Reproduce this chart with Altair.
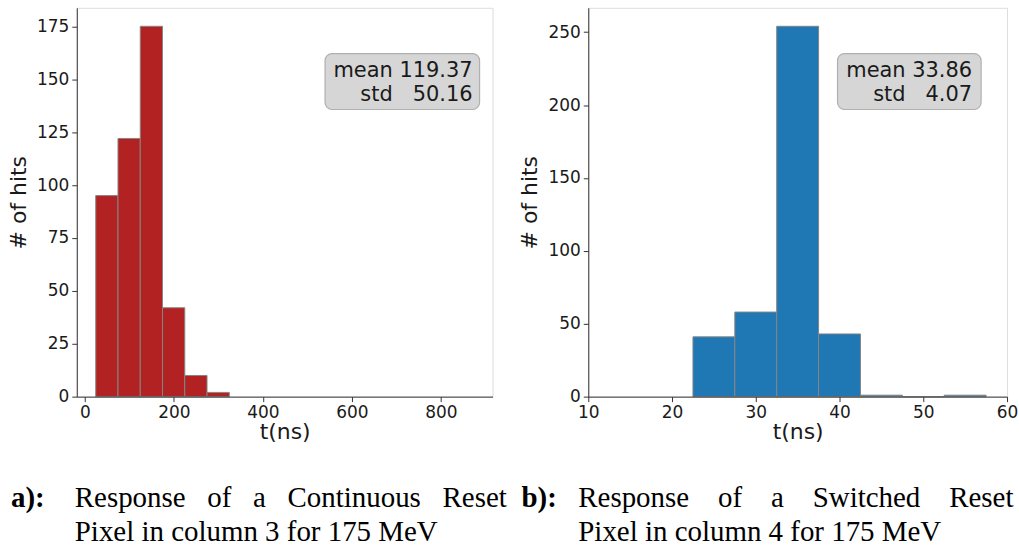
import altair as alt
import pandas as pd

# Panel a: continuous reset pixel, column 3
left_edges = [24.6, 74.6, 124.6, 174.6, 224.6, 274.6, 324.6]
left_counts = [95, 122, 175, 42, 10, 2]
left_stats = {"mean": 119.37, "std": 50.16}

# Panel b: switched reset pixel, column 4
right_edges = [22.5, 27.5, 32.5, 37.5, 42.5, 47.5, 52.5, 57.5]
right_counts = [41, 58, 254, 43, 1, 0, 1]
right_stats = {"mean": 33.86, "std": 4.07}

left_xticks = [0, 200, 400, 600, 800]
left_yticks = [0, 25, 50, 75, 100, 125, 150, 175]
right_xticks = [10, 20, 30, 40, 50, 60]
right_yticks = [0, 50, 100, 150, 200, 250]

NB = "\u00a0"
captions = {
    "a": ("a):", (NB * 3).join(["Response", "of", "a", "Continuous", "Reset"]),
          "Pixel in column 3 for 175 MeV"),
    "b": ("b):", (NB * 4).join(["Response", "of", "a", "Switched", "Reset"]),
          "Pixel in column 4 for 175 MeV"),
}

SANS = "DejaVu Sans"
SERIF = "Liberation Serif"
H = 390
CAP_SIZE = 29


def one_row(**kw):
    return pd.DataFrame([kw])


def panel(edges, counts, color, xdom, xticks, ydom, yticks, width, stats,
          caption, box_x, box_x2, text_x, cap_dx, body_dx):
    df = pd.DataFrame({"start": edges[:-1], "end": edges[1:], "count": counts})
    axis_common = dict(
        grid=False, domainColor="#333333", tickColor="#333333", tickSize=5,
        labelFont=SANS, labelFontSize=17, labelColor="#1a1a1a", labelPadding=3,
        titleFont=SANS, titleFontSize=22, titleFontWeight="normal",
        titleColor="#1a1a1a", zindex=1, labelOverlap=False,
    )
    bars = alt.Chart(df).mark_bar(
        color=color, stroke="#858585", strokeWidth=1, binSpacing=0
    ).encode(
        x=alt.X("start:Q", scale=alt.Scale(domain=xdom, nice=False, zero=False),
                axis=alt.Axis(values=xticks, title="t(ns)", labelFlush=False,
                              titlePadding=1, **axis_common)),
        x2="end:Q",
        y=alt.Y("count:Q", scale=alt.Scale(domain=ydom, nice=False),
                axis=alt.Axis(values=yticks, title="# of hits", titlePadding=6,
                              **axis_common)),
        y2=alt.datum(0),
    )

    box = alt.Chart(one_row(k=0)).mark_rect(
        fill="#d6d6d6", stroke="#b0b0b0", strokeWidth=1.2, cornerRadius=7
    ).encode(x=alt.value(box_x), x2=alt.value(box_x2),
             y=alt.value(46), y2=alt.value(102))

    line1 = f"mean {stats['mean']:.2f}"
    line2 = f"std{NB * 3}{stats['std']:.2f}"
    t1 = alt.Chart(one_row(t=line1)).mark_text(
        font=SANS, fontSize=21, align="right", baseline="alphabetic", color="#1a1a1a"
    ).encode(x=alt.value(text_x), y=alt.value(69), text="t:N")
    t2 = alt.Chart(one_row(t=line2)).mark_text(
        font=SANS, fontSize=21, align="right", baseline="alphabetic", color="#1a1a1a"
    ).encode(x=alt.value(text_x), y=alt.value(93), text="t:N")

    lab, body1, body2 = caption
    cap_style = dict(font=SERIF, fontSize=CAP_SIZE, align="left",
                     baseline="alphabetic", color="black")
    c0 = alt.Chart(one_row(t=lab)).mark_text(fontWeight="bold", **cap_style).encode(
        x=alt.value(cap_dx), y=alt.value(501), text="t:N")
    c1 = alt.Chart(one_row(t=body1)).mark_text(**cap_style).encode(
        x=alt.value(body_dx), y=alt.value(501), text="t:N")
    c2 = alt.Chart(one_row(t=body2)).mark_text(**cap_style).encode(
        x=alt.value(body_dx), y=alt.value(535), text="t:N")

    return alt.layer(bars, box, t1, t2, c0, c1, c2).properties(width=width, height=H)


left = panel(left_edges, left_counts, "#b22222", [-18, 916], left_xticks,
             [0, 183.75], left_yticks, 417, left_stats, captions["a"],
             249, 404, 397, -66, -2)
right = panel(right_edges, right_counts, "#1f77b4", [10, 60], right_xticks,
              [0, 266.7], right_yticks, 420, right_stats, captions["b"],
              250, 394, 385, -67, -10)

chart = alt.hconcat(left, right, spacing=11).properties(
    padding={"left": 7, "top": 6, "right": 0, "bottom": 0}
).configure_view(stroke="#333333", strokeWidth=1).configure(background="white")

chart.save("out.html", embed_options={"renderer": "svg", "actions": False})
